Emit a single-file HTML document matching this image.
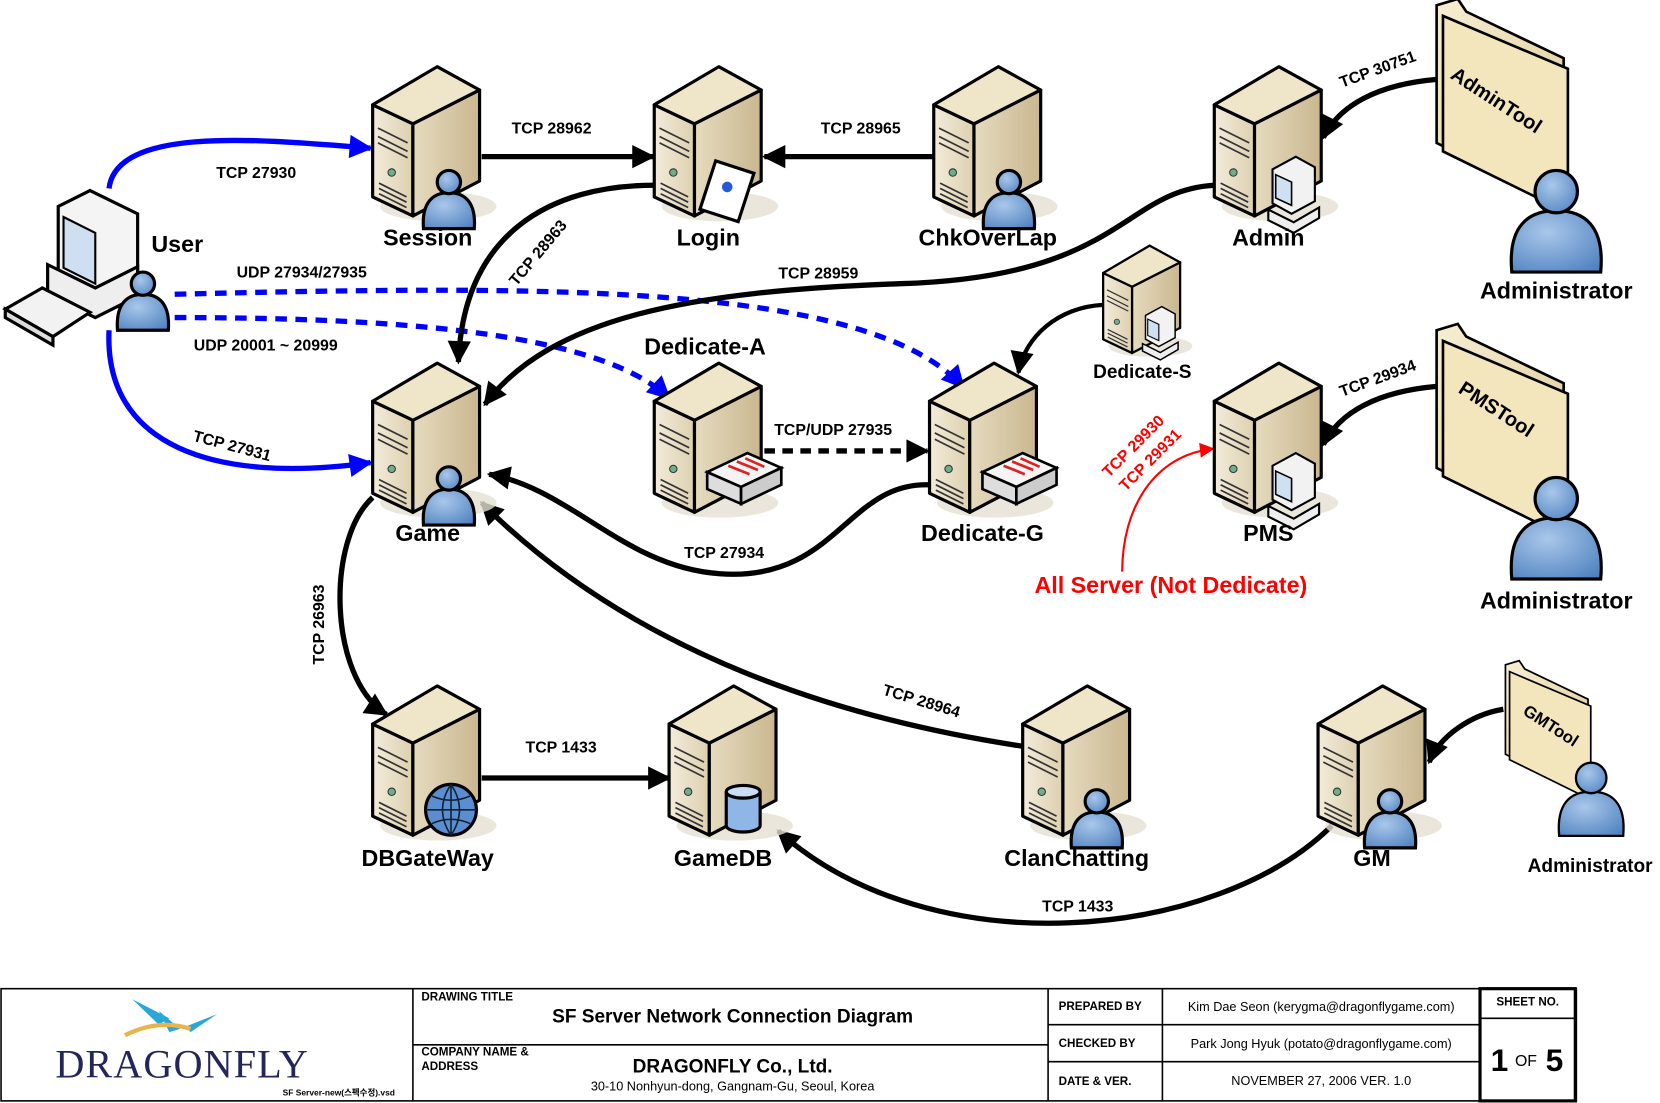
<!DOCTYPE html>
<html><head><meta charset="utf-8"><style>
html,body{margin:0;padding:0;background:#fff;}
svg{display:block;}
text{font-family:"Liberation Sans",Arial,sans-serif;font-weight:bold;}
</style></head><body>
<svg width="1660" height="1103" viewBox="0 0 1568 1042" preserveAspectRatio="none" xmlns="http://www.w3.org/2000/svg">
<defs>
<linearGradient id="fr" x1="0" y1="0" x2="1" y2="0"><stop offset="0" stop-color="#f3ecda"/><stop offset="1" stop-color="#ddd0b0"/></linearGradient>
<linearGradient id="sd" x1="0" y1="0" x2="1" y2="0"><stop offset="0" stop-color="#e6dbbf"/><stop offset="1" stop-color="#c9b78f"/></linearGradient>
<radialGradient id="pb" cx="0.4" cy="0.35" r="0.8"><stop offset="0" stop-color="#a9c7ea"/><stop offset="1" stop-color="#4f82c0"/></radialGradient>
<linearGradient id="fd" x1="0" y1="0" x2="1" y2="1"><stop offset="0" stop-color="#f7eed3"/><stop offset="1" stop-color="#dcc996"/></linearGradient>
<marker id="ab" viewBox="0 0 10 10" refX="9" refY="5" markerWidth="30" markerHeight="22" markerUnits="userSpaceOnUse" orient="auto"><path d="M0,0 L10,5 L0,10 z" fill="#000"/></marker>
<marker id="abl" viewBox="0 0 10 10" refX="9" refY="5" markerWidth="30" markerHeight="22" markerUnits="userSpaceOnUse" orient="auto"><path d="M0,0 L10,5 L0,10 z" fill="#0000ff"/></marker>
<marker id="ar" viewBox="0 0 10 10" refX="9" refY="5" markerWidth="20" markerHeight="14" markerUnits="userSpaceOnUse" orient="auto"><path d="M0,0 L10,5 L0,10 z" fill="#f00"/></marker>
<g id="srv">
<ellipse cx="62" cy="132" rx="55" ry="14" fill="#e6e0d2" opacity="0.8"/>
<polygon points="0,36 38,54 38,141 0,123" fill="url(#fr)" stroke="#000" stroke-width="3" stroke-linejoin="round"/>
<polygon points="38,54 101,22 101,108 38,141" fill="url(#sd)" stroke="#000" stroke-width="3" stroke-linejoin="round"/>
<polygon points="0,36 61,0 101,22 38,54" fill="#efe5c9" stroke="#000" stroke-width="3" stroke-linejoin="round"/>
<path d="M5,58 L33,72 M5,66 L33,80 M5,72 L33,86 M6,110 L32,123 M6,115 L32,128 M6,120 L32,133" stroke="#333" stroke-width="1.6" fill="none"/>
<circle cx="18" cy="100" r="3.5" fill="#6cb08a" stroke="#333"/>
</g>
<g id="per">
<path d="M-24,36 C-26,10 -14,2 0,2 C14,2 26,10 24,36 Z" fill="url(#pb)" stroke="#000" stroke-width="3"/>
<circle cx="0" cy="-8" r="11" fill="url(#pb)" stroke="#000" stroke-width="3"/>
</g>
<g id="bper">
<path d="M-42,62 C-46,18 -26,4 0,4 C26,4 46,18 42,62 Z" fill="url(#pb)" stroke="#000" stroke-width="3"/>
<circle cx="0" cy="-14" r="20" fill="url(#pb)" stroke="#000" stroke-width="3"/>
</g>
<g id="pc">
<polygon points="0,0 22,-12 40,-2 40,30 18,42 0,32" fill="#f2f2f2" stroke="#000" stroke-width="2"/>
<polygon points="3,5 18,12 18,34 3,27" fill="#cfe0f3" stroke="#000" stroke-width="1.5"/>
<polygon points="-4,38 20,50 44,36 44,46 20,60 -4,48" fill="#eee" stroke="#000" stroke-width="2"/>
</g>
<g id="sw">
<polygon points="0,18 38,0 70,14 32,32" fill="#f4f4f4" stroke="#000" stroke-width="2.5"/>
<polygon points="0,18 32,32 32,48 0,34" fill="#ddd" stroke="#000" stroke-width="2.5"/>
<polygon points="32,32 70,14 70,30 32,48" fill="#ccc" stroke="#000" stroke-width="2.5"/>
<path d="M20,12 L40,20 M28,8 L48,16 M36,5 L54,13" stroke="#d22" stroke-width="2.5"/>
</g>
<g id="fold">
<polygon points="0,0 20,-6 28,6 120,50 120,190 0,130" fill="url(#fd)" stroke="#000" stroke-width="2.5"/>
<polygon points="6,10 124,60 124,196 6,138" fill="#f3e6bd" stroke="#000" stroke-width="2.5"/>
</g>
</defs>

<!-- connectors -->
<g fill="none" stroke-width="5">
<path d="M103,178 C110,118 250,132 350,140" stroke="#0000ff" marker-end="url(#abl)"/>
<path d="M103,312 C98,420 200,458 350,437" stroke="#0000ff" marker-end="url(#abl)"/>
<path d="M165,278 C500,270 820,265 910,366" stroke="#0000ff" stroke-dasharray="11,8" marker-end="url(#abl)"/>
<path d="M165,300 C400,300 570,318 632,376" stroke="#0000ff" stroke-dasharray="11,8" marker-end="url(#abl)"/>
<path d="M455,148 L617,148" stroke="#000" marker-end="url(#ab)"/>
<path d="M882,148 L722,148" stroke="#000" marker-end="url(#ab)"/>
<path d="M618,175 C520,175 438,220 433,342" stroke="#000" marker-end="url(#ab)"/>
<path d="M1147,175 C1060,180 1060,262 850,268 C650,275 520,300 458,382" stroke="#000" marker-end="url(#ab)"/>
<path d="M1042,288 C1000,290 968,318 962,352" stroke="#000" stroke-width="4" marker-end="url(#ab)"/>
<path d="M722,426 L876,426" stroke="#000" stroke-dasharray="10,7" marker-end="url(#ab)"/>
<path d="M878,458 C800,455 790,550 680,542 C590,536 540,462 462,448" stroke="#000" marker-end="url(#ab)"/>
<path d="M352,470 C308,510 310,640 365,675" stroke="#000" marker-end="url(#ab)"/>
<path d="M455,735 L632,735" stroke="#000" marker-end="url(#ab)"/>
<path d="M966,705 C800,680 600,620 455,475" stroke="#000" marker-end="url(#ab)"/>
<path d="M1258,780 C1150,888 880,915 735,785" stroke="#000" marker-end="url(#ab)"/>
<path d="M1357,75 C1300,80 1265,100 1250,130" stroke="#000" marker-end="url(#ab)"/>
<path d="M1357,365 C1300,370 1265,390 1250,420" stroke="#000" marker-end="url(#ab)"/>
<path d="M1420,670 C1390,675 1360,695 1350,720" stroke="#000" marker-end="url(#ab)"/>
<path d="M1060,540 C1060,480 1090,430 1146,424" stroke="#f00" stroke-width="2" marker-end="url(#ar)"/>
</g>

<!-- servers -->
<use href="#srv" x="352" y="63"/><use href="#per" x="424" y="180"/>
<use href="#srv" x="618" y="63"/>
<g transform="translate(676,152) rotate(18)"><rect x="0" y="0" width="38" height="48" fill="#fff" stroke="#000" stroke-width="3"/><circle cx="18" cy="20" r="5" fill="#2659d8"/></g>
<use href="#srv" x="882" y="63"/><use href="#per" x="953" y="180"/>
<use href="#srv" x="1147" y="63"/><use href="#pc" x="1202" y="160"/>
<use href="#srv" x="352" y="343"/><use href="#per" x="424" y="460"/>
<use href="#srv" x="618" y="343"/><use href="#sw" x="668" y="428"/>
<use href="#srv" x="878" y="343"/><use href="#sw" x="928" y="428"/>
<use href="#srv" x="1147" y="343"/><use href="#pc" x="1202" y="440"/>
<g transform="translate(1042,232) scale(0.72)"><use href="#srv"/></g>
<g transform="translate(1082,298) scale(0.7)"><use href="#pc"/></g>
<use href="#srv" x="352" y="648"/>
<g><circle cx="426" cy="765" r="24" fill="#5b8ed0" stroke="#000" stroke-width="3"/><path d="M402,765 H450 M426,741 V789 M408,752 Q426,760 444,752 M408,778 Q426,770 444,778 M426,741 Q410,765 426,789 M426,741 Q442,765 426,789" stroke="#123" stroke-width="1.5" fill="none"/></g>
<use href="#srv" x="632" y="648"/>
<g><path d="M686,748 V780 A16,6 0 0 0 718,780 V748" fill="#8fb6e6" stroke="#000" stroke-width="3"/><ellipse cx="702" cy="748" rx="16" ry="6" fill="#c8dcf3" stroke="#000" stroke-width="3"/></g>
<use href="#srv" x="966" y="648"/><use href="#per" x="1036" y="765"/>
<use href="#srv" x="1245" y="648"/><use href="#per" x="1313" y="765"/>

<!-- user pc -->
<g transform="translate(40,190)">
<polygon points="15,5 45,-10 90,12 90,80 60,95 15,72" fill="#f4f4f4" stroke="#000" stroke-width="3"/>
<polygon points="20,15 50,30 50,78 20,63" fill="#cfdff2" stroke="#000" stroke-width="2"/>
<polygon points="5,60 50,82 90,62 90,90 50,110 5,88" fill="#eee" stroke="#000" stroke-width="3"/>
</g>
<polygon points="5,292 40,272 85,295 50,318" fill="#f2f2f2" stroke="#000" stroke-width="3"/>
<polygon points="5,292 50,318 50,326 5,300" fill="#ddd" stroke="#000" stroke-width="3"/>
<use href="#per" x="135" y="276"/>

<!-- admin tools -->
<use href="#fold" x="1357" y="5"/>
<text x="1410" y="100" font-size="19" transform="rotate(33 1410 100)" text-anchor="middle">AdminTool</text>
<use href="#bper" x="1470" y="195"/>
<use href="#fold" x="1357" y="312"/>
<text x="1410" y="392" font-size="19" transform="rotate(33 1410 392)" text-anchor="middle">PMSTool</text>
<use href="#bper" x="1470" y="485"/>
<g transform="translate(1422,628) scale(0.65)"><use href="#fold"/></g>
<text x="1462" y="690" font-size="16" transform="rotate(33 1462 690)" text-anchor="middle">GMTool</text>
<g transform="translate(1503,745) scale(0.72)"><use href="#bper"/></g>

<!-- node labels -->
<g font-size="22" text-anchor="middle">
<text x="404" y="232">Session</text><text x="669" y="232">Login</text><text x="933" y="232">ChkOverLap</text><text x="1198" y="232">Admin</text>
<text x="404" y="511">Game</text><text x="666" y="335">Dedicate-A</text><text x="928" y="511">Dedicate-G</text><text x="1198" y="511">PMS</text>
<text x="404" y="818">DBGateWay</text><text x="683" y="818">GameDB</text><text x="1017" y="818">ClanChatting</text><text x="1296" y="818">GM</text>
<text x="143" y="238" text-anchor="start">User</text>
<text x="1470" y="282">Administrator</text><text x="1470" y="575">Administrator</text>
<text x="1079" y="357" font-size="18">Dedicate-S</text>
<text x="1502" y="824" font-size="18">Administrator</text>
<text x="1106" y="560" fill="#f00">All Server (Not Dedicate)</text>
</g>
<!-- connector labels -->
<g font-size="15" text-anchor="middle">
<text x="242" y="168">TCP 27930</text>
<text x="218" y="426" transform="rotate(15 218 426)">TCP 27931</text>
<text x="285" y="262">UDP 27934/27935</text>
<text x="251" y="331">UDP 20001 ~ 20999</text>
<text x="521" y="126">TCP 28962</text>
<text x="813" y="126">TCP 28965</text>
<text x="512" y="242" transform="rotate(-50 512 242)">TCP 28963</text>
<text x="773" y="263">TCP 28959</text>
<text x="787" y="411">TCP/UDP 27935</text>
<text x="684" y="527">TCP 27934</text>
<text x="306" y="590" transform="rotate(-90 306 590)">TCP 26963</text>
<text x="530" y="711">TCP 1433</text>
<text x="869" y="667" transform="rotate(17 869 667)">TCP 28964</text>
<text x="1018" y="861">TCP 1433</text>
<text x="1303" y="70" transform="rotate(-20 1303 70)">TCP 30751</text>
<text x="1303" y="362" transform="rotate(-20 1303 362)">TCP 29934</text>
<text x="1074" y="425" fill="#f00" transform="rotate(-45 1074 425)">TCP 29930</text>
<text x="1090" y="438" fill="#f00" transform="rotate(-45 1090 438)">TCP 29931</text>
</g>

<!-- title block -->
<g fill="none" stroke="#000">
<rect x="1" y="934" width="1488" height="106" stroke-width="1.5"/>
<line x1="390" y1="934" x2="390" y2="1040" stroke-width="1.5"/>
<line x1="390" y1="987" x2="990" y2="987" stroke-width="1.5"/>
<line x1="990" y1="934" x2="990" y2="1040" stroke-width="1.5"/>
<line x1="1098" y1="934" x2="1098" y2="1040" stroke-width="1.5"/>
<line x1="990" y1="968" x2="1398" y2="968" stroke-width="1.5"/>
<line x1="990" y1="1003" x2="1398" y2="1003" stroke-width="1.5"/>
<rect x="1398" y="934" width="90" height="106" stroke-width="3"/>
<line x1="1398" y1="962" x2="1488" y2="962" stroke-width="1.5"/>
</g>
<g fill="#2aa7d6"><polygon points="125,944 160,962 150,968"/><polygon points="150,955 170,972 160,975"/><polygon points="205,958 180,975 175,970"/></g>
<path d="M118,978 Q150,962 180,972" stroke="#e8b54a" stroke-width="4" fill="none"/>
<text x="172" y="1018" font-size="38" fill="#24265a" text-anchor="middle" style="font-family:'Liberation Serif',serif;font-weight:normal;letter-spacing:1px">DRAGONFLY</text>
<text x="320" y="1035" font-size="8" text-anchor="middle" style="font-family:'Liberation Sans','Noto Sans CJK KR',sans-serif">SF Server-new(스펙수정).vsd</text>
<g font-size="11"><text x="398" y="945">DRAWING TITLE</text><text x="398" y="997">COMPANY NAME &amp;</text><text x="398" y="1011">ADDRESS</text>
<text x="1000" y="954">PREPARED BY</text><text x="1000" y="989">CHECKED BY</text><text x="1000" y="1025">DATE &amp; VER.</text>
<text x="1443" y="950" text-anchor="middle">SHEET NO.</text></g>
<text x="692" y="966" font-size="18" text-anchor="middle">SF Server Network Connection Diagram</text>
<text x="692" y="1013" font-size="18" text-anchor="middle">DRAGONFLY Co., Ltd.</text>
<g font-size="12" text-anchor="middle">
<text x="692" y="1030" style="font-weight:normal">30-10 Nonhyun-dong, Gangnam-Gu, Seoul, Korea</text>
<text x="1248" y="955" style="font-weight:normal">Kim Dae Seon (kerygma@dragonflygame.com)</text>
<text x="1248" y="990" style="font-weight:normal">Park Jong Hyuk (potato@dragonflygame.com)</text>
<text x="1248" y="1025" style="font-weight:normal">NOVEMBER 27, 2006 VER. 1.0</text>
</g>
<text x="1408" y="1012" font-size="30">1</text><text x="1431" y="1007" font-size="15" style="font-weight:normal">OF</text><text x="1460" y="1012" font-size="30">5</text>
</svg>
</body></html>
